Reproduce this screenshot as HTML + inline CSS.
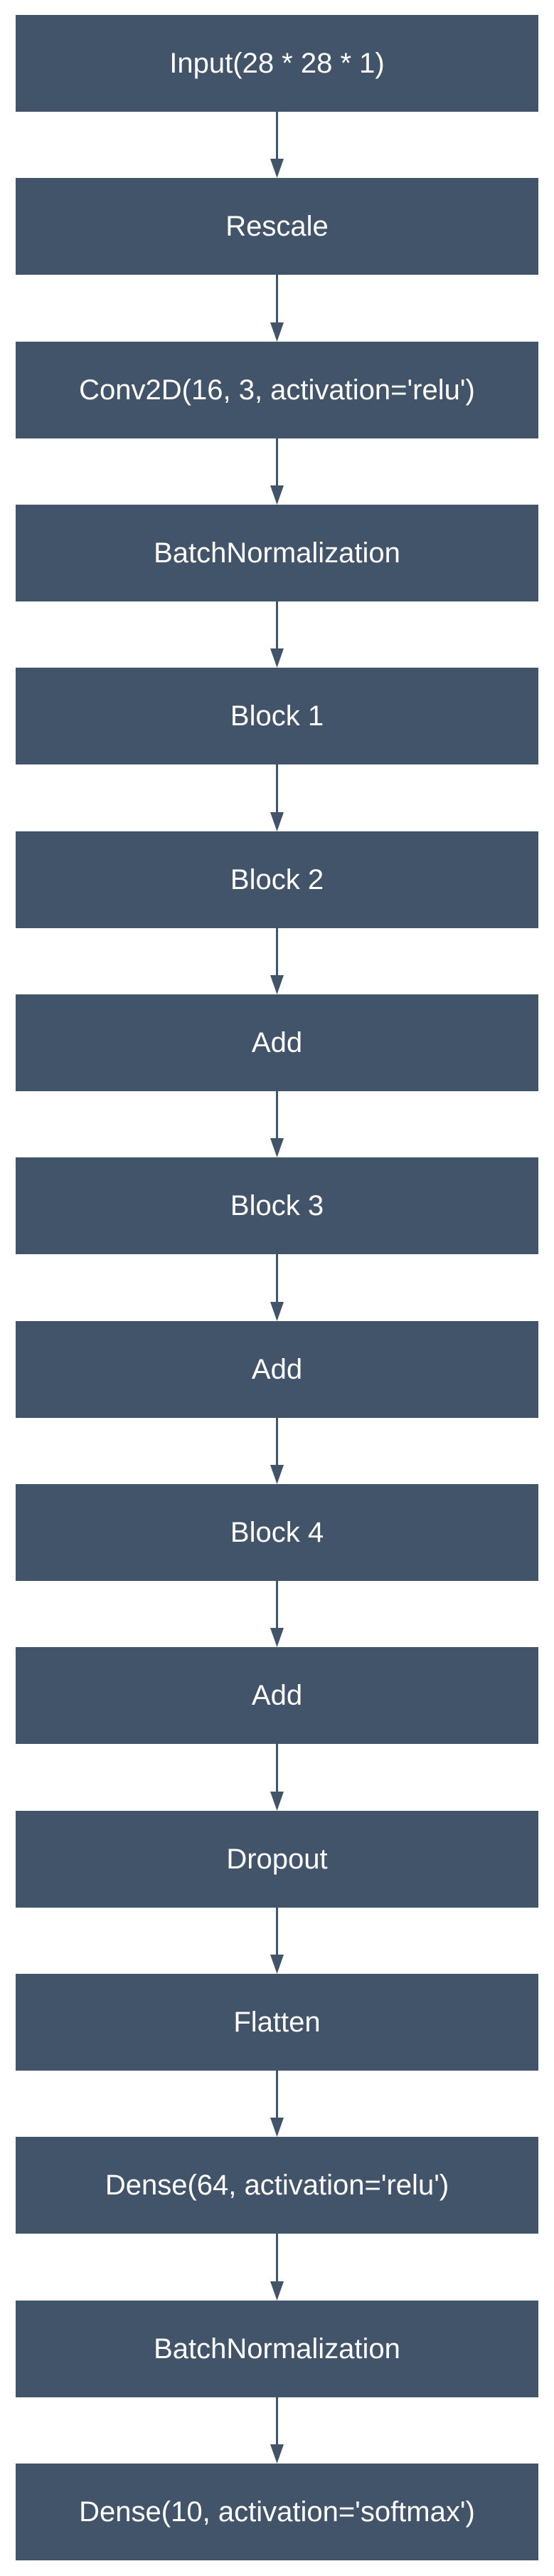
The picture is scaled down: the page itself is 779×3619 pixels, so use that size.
<!DOCTYPE html>
<html><head><meta charset="utf-8"><style>
html,body{margin:0;padding:0;background:#fff;}
body{width:779px;height:3619px;position:relative;overflow:hidden;font-family:"Liberation Sans",sans-serif;}
.b{position:absolute;left:22px;width:735px;height:136px;background:#42546a;color:#fff;font-size:40px;display:flex;align-items:center;justify-content:center;}
</style></head><body>
<svg width="779" height="3619" style="position:absolute;left:0;top:0">
<g fill="#42546a" stroke="#42546a">
</g>
</svg>
<div id="c"></div>
<script>
var labels=["Input(28 * 28 * 1)","Rescale","Conv2D(16, 3, activation='relu')","BatchNormalization","Block 1","Block 2","Add","Block 3","Add","Block 4","Add","Dropout","Flatten","Dense(64, activation='relu')","BatchNormalization","Dense(10, activation='softmax')"];
var svg=document.querySelector('svg g'),h='',s='';
for(var i=0;i<16;i++){var t=Math.round(21+i*229.33);
h+='<div class="b" style="top:'+t+'px">'+labels[i]+'</div>';
if(i<15){var y1=t+136,y2=Math.round(21+(i+1)*229.33);
s+='<line x1="389.5" y1="'+y1+'" x2="389.5" y2="'+(y2-24)+'" stroke-width="3"/><polygon stroke="none" points="380,'+(y2-27)+' 399,'+(y2-27)+' 389.5,'+y2+'"/>';}}
document.getElementById('c').innerHTML=h;svg.innerHTML=s;
</script>
</body></html>
